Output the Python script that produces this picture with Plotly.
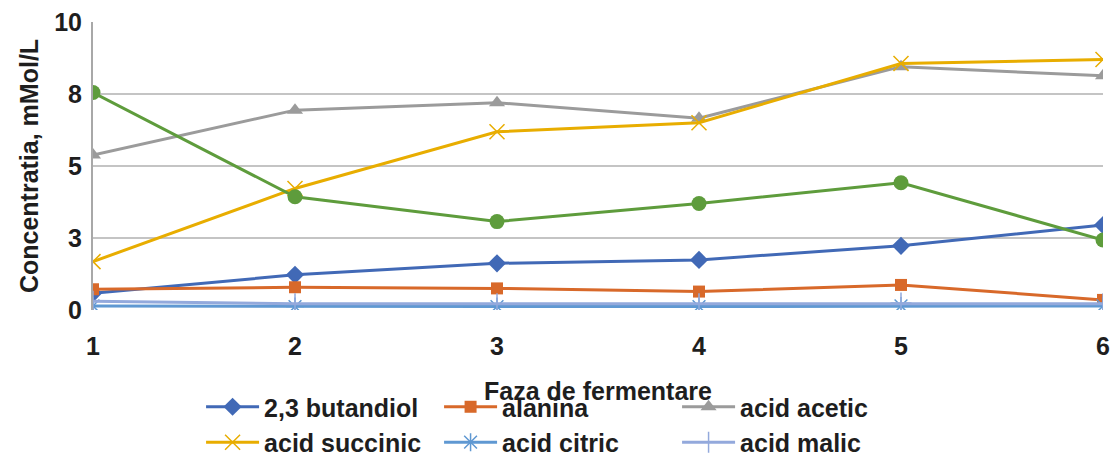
import plotly.graph_objects as go

# Fermentation phases
faze = [1, 2, 3, 4, 5, 6]

# Concentrations, mMol/L
butandiol = [0.58, 1.22, 1.62, 1.74, 2.23, 2.95]
alanina = [0.72, 0.79, 0.75, 0.64, 0.87, 0.35]
acid_acetic = [5.38, 6.94, 7.20, 6.66, 8.45, 8.13]
acid_succinic = [1.68, 4.22, 6.19, 6.50, 8.56, 8.70]
acid_citric = [0.14, 0.12, 0.12, 0.12, 0.14, 0.14]
acid_malic = [0.30, 0.22, 0.22, 0.22, 0.24, 0.22]
seria_7 = [7.55, 3.93, 3.07, 3.70, 4.42, 2.43]

y_ticks = [0, 2.5, 5, 7.5, 10]
y_ticklabels = ["0", "3", "5", "8", "10"]

FONT = "Liberation Sans Narrow, Arial Narrow, Arial, sans-serif"
TXT = "#1e1e1e"

series = [
    # name, values, color, symbol, size, legend group
    ("2,3 butandiol", butandiol, "#4169b6", "diamond", 14, "legend"),
    ("alanina", alanina, "#d8692a", "square", 12, "legend"),
    ("acid acetic", acid_acetic, "#9b9b9b", "triangle-up", 14, "legend"),
    ("acid succinic", acid_succinic, "#e8ad00", "x-thin", 15, "legend2"),
    ("acid citric", acid_citric, "#5f98d2", "asterisk", 15, "legend2"),
    ("acid malic", acid_malic, "#93a9dc", "cross-thin", 15, "legend2"),
]

fig = go.Figure()
for name, vals, color, symbol, size, leg in series:
    thin = symbol in ("x-thin", "asterisk", "cross-thin")
    fig.add_trace(go.Scatter(
        x=faze, y=vals, name=name, mode="lines+markers",
        line=dict(color=color, width=3),
        marker=dict(symbol=symbol, size=size, color=color,
                    line=dict(color=color, width=1.5 if thin else 0)),
        legend=leg,
    ))

fig.add_trace(go.Scatter(
    x=faze, y=seria_7, name="seria 7", mode="lines+markers",
    line=dict(color="#5e9c3c", width=3),
    marker=dict(symbol="circle", size=15, color="#5e9c3c"),
    showlegend=False,
))

legend_common = dict(
    orientation="h", xref="paper", yref="paper", xanchor="left", yanchor="top",
    font=dict(family=FONT, size=25, color=TXT, weight="bold"),
    entrywidth=170, bgcolor="rgba(0,0,0,0)", itemwidth=53,
)

fig.update_layout(
    width=1115, height=458,
    margin=dict(l=93, r=12, t=22, b=148, autoexpand=False),
    paper_bgcolor="white", plot_bgcolor="white",
    font=dict(family=FONT, color=TXT, weight="bold"),
    xaxis=dict(
        range=[1, 6], tickvals=faze, ticktext=[str(v) for v in faze],
        showgrid=False, zeroline=False,
        showline=False,
        tickfont=dict(family=FONT, size=25, color=TXT, weight="bold"),
        ticklabelstandoff=19,
        title=dict(text="Faza de fermentare", standoff=23,
                   font=dict(family=FONT, size=25, color=TXT, weight="bold")),
        automargin=False,
    ),
    yaxis=dict(
        range=[0, 10], tickvals=y_ticks, ticktext=y_ticklabels,
        showgrid=True, gridcolor="#c4c4c4", gridwidth=2,
        zeroline=False, showline=True, linecolor="#a8a8a8", linewidth=2,
        tickfont=dict(family=FONT, size=25, color=TXT, weight="bold"),
        ticklabelstandoff=4,
        title=dict(text="Concentratia, mMol/L", standoff=8,
                   font=dict(family=FONT, size=25, color=TXT, weight="bold")),
        automargin=False,
    ),
    legend=dict(x=0.107, y=-0.257, **legend_common),
    legend2=dict(x=0.107, y=-0.38, **legend_common),
)

fig.write_html("out.html")
